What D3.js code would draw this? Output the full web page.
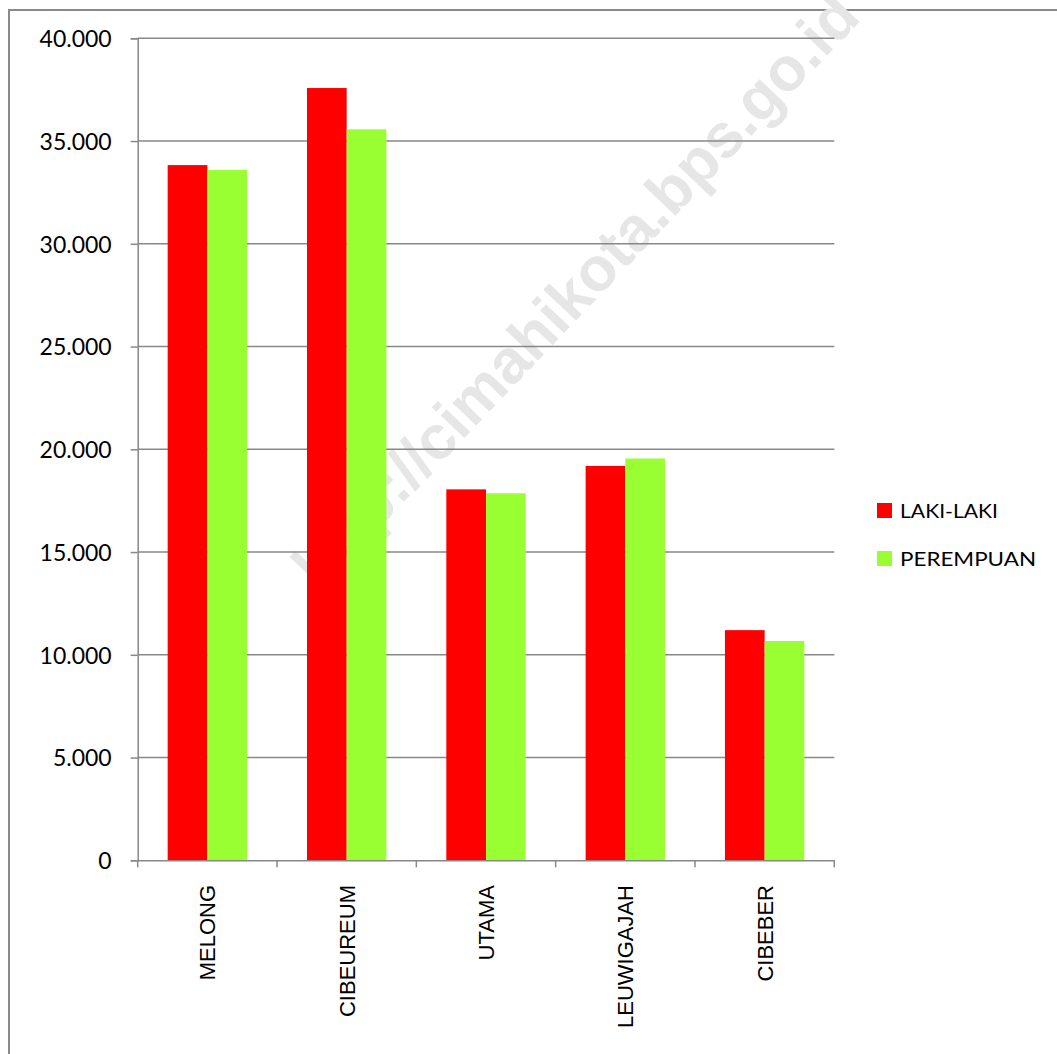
<!DOCTYPE html>
<html>
<head>
<meta charset="utf-8">
<script src="https://cdn.jsdelivr.net/npm/d3@7"></script>
<style>
html,body{margin:0;padding:0;background:#fff;}
svg{display:block;}
</style>
</head>
<body>
<svg id="chart" width="1057" height="1054"></svg>
<script>
const categories = ["MELONG", "CIBEUREUM", "UTAMA", "LEUWIGAJAH", "CIBEBER"];
const seriesNames = ["LAKI-LAKI", "PEREMPUAN"];
const lakiLaki = [33830, 37580, 18050, 19190, 11200];
const perempuan = [33590, 35570, 17860, 19550, 10670];
const yTicks = [0, 5000, 10000, 15000, 20000, 25000, 30000, 35000, 40000];
const colors = ["#FF0000", "#99FF33"];
const watermarkText = "http://cimahikota.bps.go.id";

(function () {
const svg = d3.select("#chart");
const W = 1057, H = 1054;
const plotLeft = 137.7, plotRight = 834.3, plotTop = 38.3, plotBottom = 860.3;

const locale = d3.formatLocale({decimal: ",", thousands: ".", grouping: [3], currency: ["", ""]});
const fmt = locale.format(",");

const x = d3.scaleBand().domain(categories).range([plotLeft, plotRight]).paddingInner(0).paddingOuter(0);
const x1 = d3.scaleBand().domain(seriesNames).range([0, x.bandwidth()]).paddingInner(0).paddingOuter(0.755);
const y = d3.scaleLinear().domain([0, 40000]).range([plotBottom, plotTop]);

// outer frame
svg.append("path")
  .attr("d", `M9,${H + 5} L9,10 L${W + 5},10`)
  .attr("fill", "none").attr("stroke", "#8a8a8a").attr("stroke-width", 2);

// watermark
svg.append("text")
  .attr("transform", "translate(575,290) rotate(-46.5)")
  .attr("text-anchor", "middle")
  .attr("dy", "0.35em")
  .attr("font-family", "Liberation Sans, Arial, sans-serif")
  .attr("font-weight", "bold")
  .attr("font-size", 62)
  .attr("fill", "#e6e6e6")
  .text(watermarkText);

// gridlines
svg.append("g").selectAll("line")
  .data(yTicks.filter(d => d > 0))
  .join("line")
  .attr("x1", plotLeft).attr("x2", plotRight)
  .attr("y1", d => y(d)).attr("y2", d => y(d))
  .attr("stroke", "#888").attr("stroke-width", 1.5);

// y axis
const yAxis = d3.axisLeft(y).tickValues(yTicks).tickFormat(d => fmt(d)).tickSize(7).tickPadding(19);
const gy = svg.append("g").attr("transform", `translate(${plotLeft},0)`).call(yAxis);
gy.select(".domain").attr("stroke", "#888").attr("stroke-width", 1.5);
gy.selectAll(".tick line").attr("stroke", "#888").attr("stroke-width", 1.5);
gy.selectAll(".tick text")
  .attr("font-family", "Lato, sans-serif").attr("font-size", 23).attr("fill", "#000")
  .attr("dy", "0.36em");

// bars
const data = categories.map((c, i) => ({cat: c, vals: [lakiLaki[i], perempuan[i]]}));
const groups = svg.append("g").selectAll("g")
  .data(data).join("g")
  .attr("transform", d => `translate(${x(d.cat)},0)`);
groups.selectAll("rect")
  .data(d => d.vals.map((v, j) => ({s: seriesNames[j], v, j})))
  .join("rect")
  .attr("x", d => x1(d.s))
  .attr("width", x1.bandwidth())
  .attr("y", d => y(d.v))
  .attr("height", d => y(0) - y(d.v))
  .attr("fill", d => colors[d.j]);

// x axis
const xAxis = d3.axisBottom(x).tickSize(0).tickFormat("");
const gx = svg.append("g").attr("transform", `translate(0,${plotBottom})`).call(xAxis);
gx.select(".domain").attr("stroke", "#888").attr("stroke-width", 1.5);
const boundaries = categories.map(c => x(c)).concat([x(categories[categories.length - 1]) + x.bandwidth()]);
gx.selectAll("line.bt").data(boundaries).join("line").attr("class", "bt")
  .attr("x1", d => d).attr("x2", d => d).attr("y1", 0).attr("y2", 7)
  .attr("stroke", "#888").attr("stroke-width", 1.5);

svg.append("g").selectAll("text")
  .data(categories).join("text")
  .attr("transform", d => `translate(${x(d) + x.bandwidth() / 2 + 8},885) rotate(-90)`)
  .attr("text-anchor", "end")
  .attr("font-family", "Liberation Sans, Arial, sans-serif")
  .attr("font-size", 22)
  .attr("fill", "#000")
  .text(d => d);

// legend
const legendY = [503, 551];
const legendW = [98, 136];
const lg = svg.append("g");
seriesNames.forEach((s, i) => {
  lg.append("rect").attr("x", 877).attr("y", legendY[i]).attr("width", 15).attr("height", 15).attr("fill", colors[i]);
  lg.append("text").attr("x", 900).attr("y", legendY[i] + 14.5)
    .attr("font-family", "Lato, sans-serif").attr("font-size", 19.5).attr("fill", "#000")
    .attr("textLength", legendW[i]).attr("lengthAdjust", "spacingAndGlyphs")
    .text(s);
});
})();
</script>
</body>
</html>
